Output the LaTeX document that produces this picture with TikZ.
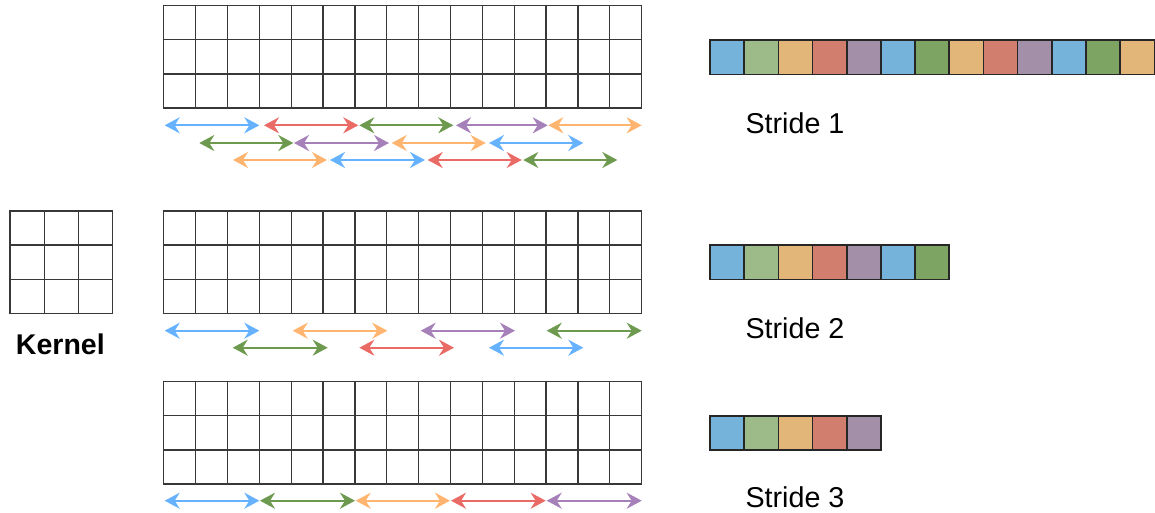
\documentclass[tikz,border=0pt]{standalone}
\usepackage{fontspec}
\setmainfont{Liberation Sans}
\usetikzlibrary{arrows.meta}

% arrow colours
\definecolor{abl}{HTML}{66B2FF}
\definecolor{ared}{HTML}{EA6B66}
\definecolor{agr}{HTML}{6D9A4F}
\definecolor{aor}{HTML}{FFB570}
\definecolor{apu}{HTML}{A680B8}
% output cell colours
\definecolor{cbl}{HTML}{75B3DB}
\definecolor{clg}{HTML}{9DBB89}
\definecolor{ctan}{HTML}{E2B678}
\definecolor{cred}{HTML}{D27E6E}
\definecolor{cpu}{HTML}{A38FA8}
\definecolor{cdg}{HTML}{7EA463}

\begin{document}
\begin{tikzpicture}[x=1pt,y=-1pt,
  gridline/.style={draw=black!78, line width=1.3pt},
  span/.style={line width=2.1pt,
    {Stealth[length=15pt,width=16pt,inset=5pt]}-{Stealth[length=15pt,width=16pt,inset=5pt]}},
  cell/.style={draw=black!85, line width=1.6pt},
  lbl/.style={font=\fontsize{28.7}{34}\selectfont, inner sep=0pt, anchor=base west}]

\useasboundingbox (0,0) rectangle (1155,512);

% input feature grids: 15 columns x 3 rows
\foreach \gy in {5.7, 211, 381.7} {
  \draw[gridline] (163.7,\gy) rectangle (641.7,{\gy+102.4});
  \foreach \i in {1,...,14}
    \draw[gridline] ({163.7+\i*31.867},\gy) -- ({163.7+\i*31.867},{\gy+102.4});
  \foreach \j in {1,2}
    \draw[gridline] (163.7,{\gy+\j*34.13}) -- (641.7,{\gy+\j*34.13});
}

% kernel grid: 3 x 3
\draw[gridline] (10,211) rectangle (112.7,313.3);
\foreach \i in {1,2} {
  \draw[gridline] ({10+\i*34.23},211) -- ({10+\i*34.23},313.3);
  \draw[gridline] (10,{211+\i*34.1}) -- (112.7,{211+\i*34.1});
}
\node[lbl, font=\fontsize{28.5}{34}\selectfont\bfseries] (kernel) at (15.8,354.5) {Kernel};

% kernel positions, stride 1
\foreach \a/\b/\y/\c [count=\k] in {
  164.7/259.3/125.3/abl, 264/358.3/125.3/ared, 359.3/453.3/125.3/agr,
  456/547.7/125.3/apu, 548.3/641.7/125.3/aor,
  199.3/293.3/143/agr, 294/389/143/apu, 391.7/485.7/143/aor, 489/583.3/143/abl,
  233/327/160/aor, 330/425/160/abl, 427.7/521.7/160/ared, 523.3/617.3/160/agr} {
  \coordinate (sa\k) at (\a,\y);
  \coordinate (sb\k) at (\b,\y);
  \draw[span, color=\c] (sa\k) -- (sb\k);
}

% kernel positions, stride 2
\foreach \a/\b/\y/\c [count=\k] in {
  164.7/259.3/330.7/abl, 292.7/387.3/330.7/aor, 420.7/515/330.7/apu, 546.7/641.7/330.7/agr,
  232.7/327.7/347.7/agr, 359.3/454/347.7/ared, 489/583.3/347.7/abl} {
  \coordinate (ta\k) at (\a,\y);
  \coordinate (tb\k) at (\b,\y);
  \draw[span, color=\c] (ta\k) -- (tb\k);
}

% kernel positions, stride 3
\foreach \a/\b/\c [count=\k] in {
  164.7/259.3/abl, 260/355/agr, 355.7/450/aor, 451/545.7/ared, 546.7/641.7/apu} {
  \coordinate (ua\k) at (\a,500.7);
  \coordinate (ub\k) at (\b,500.7);
  \draw[span, color=\c] (ua\k) -- (ub\k);
}

% outputs
\foreach \c [count=\k from 0] in {cbl,clg,ctan,cred,cpu,cbl,cdg,ctan,cred,cpu,cbl,cdg,ctan}
  \draw[cell, fill=\c] ({710+\k*34.18},40) rectangle ({710+(\k+1)*34.18},74.3);
\foreach \c [count=\k from 0] in {cbl,clg,ctan,cred,cpu,cbl,cdg}
  \draw[cell, fill=\c] ({710+\k*34.18},245) rectangle ({710+(\k+1)*34.18},279.3);
\foreach \c [count=\k from 0] in {cbl,clg,ctan,cred,cpu}
  \draw[cell, fill=\c] ({710+\k*34.18},415.7) rectangle ({710+(\k+1)*34.18},450);

\node[lbl] (s1) at (745.3,133.3) {Stride 1};
\node[lbl] (s2) at (745.3,338.3) {Stride 2};
\node[lbl] (s3) at (745.3,507.5) {Stride 3};
\end{tikzpicture}
\end{document}
